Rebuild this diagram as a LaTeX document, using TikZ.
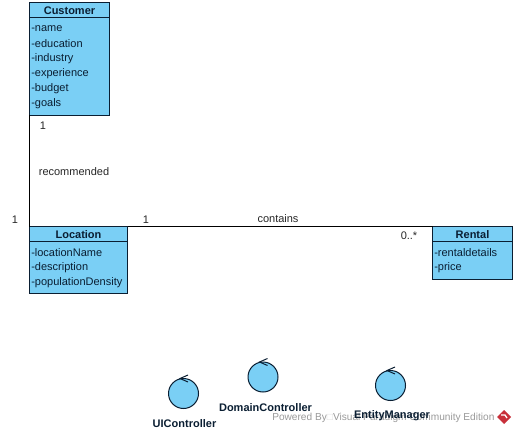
\documentclass[tikz,border=0pt]{standalone}
\usepackage{fontspec}
\usetikzlibrary{calc}
\setmainfont{Liberation Sans}
\definecolor{classblue}{HTML}{7ACFF5}
\definecolor{classline}{HTML}{0A1E32}
\definecolor{logored}{HTML}{C8303A}
\tikzset{
  classbox/.style={draw=classline,fill=classblue,line width=0.75pt,inner sep=0pt,outer sep=0pt},
  classname/.style={font=\fontsize{8.25}{10}\selectfont\bfseries,text=classline,inner sep=0pt},
  attr/.style={font=\fontsize{8.25}{10}\selectfont,text=classline,anchor=west,inner sep=0pt},
  linktext/.style={font=\fontsize{8.25}{10}\selectfont,text=black!85,inner sep=0pt},
  link/.style={line width=0.75pt,draw=black},
  ctrl/.style={draw=classline,fill=classblue,circle,line width=0.75pt,minimum size=22.5pt,inner sep=0pt,outer sep=0pt},
}
\begin{document}
\begin{tikzpicture}[x=0.75pt,y=-0.75pt]
\useasboundingbox (0,0) rectangle (516,434);
% Watermark
\node [font=\fontsize{7.6}{10}\selectfont,text=black!40,anchor=west,inner sep=0pt] (mark) at (272,417.5) {Powered By\textcolor{black!15}{□}Visual Paradigm Community Edition};
\fill [logored] (504,410) -- (511,417) -- (504,424) -- (497,417) -- cycle;
\draw [white,line width=1pt] (501,415) -- (505,415) -- (507,418);
% Customer
\node [classbox,minimum width=60pt,minimum height=84.75pt] (customer) at (69.5,59) {};
\draw [link,draw=classline] (29.5,17.5) -- (109.5,17.5);
\node [classname] (customername) at (69.5,11) {Customer};
\foreach \y/\t in {28.5/name,43.5/education,58.5/industry,73.5/experience,88.5/budget,103.5/goals}
  \node [attr] (customer-\t) at (31,\y) {-\t};
% Location
\node [classbox,minimum width=73.5pt,minimum height=50.25pt] (location) at (78.5,260) {};
\draw [link,draw=classline] (29.5,241.5) -- (127.5,241.5);
\node [classname] (locationname) at (78.5,235) {Location};
\foreach \y/\t in {252.5/locationName,267.5/description,282.5/populationDensity}
  \node [attr] (location-\t) at (31,\y) {-\t};
% Rental
\node [classbox,minimum width=60pt,minimum height=39.75pt] (rental) at (472.5,253) {};
\draw [link,draw=classline] (432.5,241.5) -- (512.5,241.5);
\node [classname] (rentalname) at (472.5,235) {Rental};
\foreach \y/\t in {252.5/rentaldetails,267.5/price}
  \node [attr] (rental-\t) at (434,\y) {-\t};
% Connectors
\draw [link] (customer.south west) -- (location.north west);
\draw [link] (location.north east) -- (rental.north west);
\node [linktext] (l1) at (43,126) {1};
\node [linktext] (l2) at (74,172) {recommended};
\node [linktext] (l3) at (15,220) {1};
\node [linktext] (l4) at (146,220) {1};
\node [linktext] (l5) at (278,219) {contains};
\node [linktext] (l6) at (409,236) {0..*};
% Controllers
\foreach \n/\x/\y/\lx/\ly in {UIController/183.5/393.5/184.5/424,DomainController/263/377/265.5/408,EntityManager/390.5/385.5/392/416}{
  \node [ctrl] (\n) at (\x,\y) {};
  \draw [line width=0.75pt,draw=classline] ($(\n.north)+(4.5,-3.5)$) -- ($(\n.north)+(-3.5,0)$) -- ($(\n.north)+(4.5,3.5)$);
  \node [classname] (\n-label) at (\lx,\ly) {\n};
}
\end{tikzpicture}
\end{document}
